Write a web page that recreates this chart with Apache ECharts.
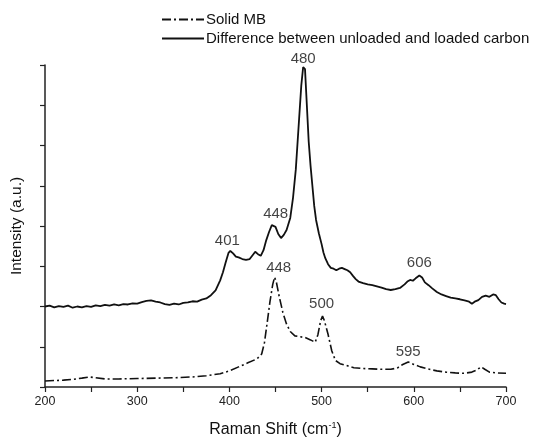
<!DOCTYPE html>
<html>
<head>
<meta charset="utf-8">
<script src="https://cdn.jsdelivr.net/npm/echarts@6/dist/echarts.min.js"></script>
<style>
html,body{margin:0;padding:0;background:#fff;}
#chart{width:540px;height:443px;}
</style>
</head>
<body>
<div id="chart"></div>
<script>
// Difference between unloaded and loaded carbon (solid line)
var diffX = [200,205,210,215,220,225,230,235,240,245,250,255,260,265,270,275,280,285,290,295,300,305,310,315,320,325,330,335,340,345,350,355,360,365,370,375,380,385,390,393,396,399,401,404,407,410,414,418,422,426,428,431,434,437,440,443,446,448,450,453,456,459,462,466,469,472,474,476,478,480,482,484,486,488,490,492,494,497,500,502,504,507,510,513,516,519,522,525,528,531,534,537,540,545,550,555,560,565,570,575,580,585,590,593,596,599,602,606,609,612,616,620,625,630,635,640,645,650,655,660,663,666,670,674,678,682,686,689,692,695,698,700];
var diffY = [2.00,2.02,1.98,2.01,1.99,2.02,1.97,2.00,1.98,2.01,1.99,2.03,2.01,2.04,2.02,2.05,2.03,2.06,2.05,2.08,2.07,2.11,2.14,2.15,2.12,2.10,2.06,2.04,2.07,2.05,2.09,2.10,2.13,2.12,2.17,2.20,2.28,2.40,2.65,2.85,3.10,3.33,3.38,3.32,3.24,3.22,3.18,3.16,3.18,3.30,3.36,3.30,3.26,3.40,3.65,3.85,4.02,4.05,3.98,3.80,3.70,3.78,3.90,4.20,4.70,5.40,6.10,6.80,7.50,7.95,7.90,7.00,6.10,5.50,5.00,4.50,4.15,3.82,3.55,3.34,3.20,3.05,2.96,2.94,2.90,2.94,2.96,2.93,2.90,2.85,2.76,2.68,2.62,2.58,2.55,2.53,2.50,2.47,2.43,2.41,2.43,2.46,2.55,2.62,2.66,2.64,2.70,2.77,2.72,2.60,2.53,2.45,2.36,2.30,2.26,2.22,2.20,2.18,2.15,2.12,2.07,2.12,2.16,2.24,2.27,2.24,2.30,2.28,2.18,2.10,2.07,2.06];

// Solid MB (dash-dot line)
var mbX = [200,210,220,230,240,248,255,265,280,300,320,340,360,375,390,400,410,420,430,435,438,441,444,447,449,451,454,458,462,466,471,476,482,488,493,496,499,501,503,507,511,515,520,526,535,545,555,565,575,582,588,594,600,607,615,625,635,645,655,663,668,673,677,682,690,700];
var mbY = [0.15,0.16,0.17,0.19,0.22,0.25,0.23,0.20,0.20,0.21,0.22,0.23,0.25,0.28,0.33,0.40,0.50,0.60,0.70,0.82,1.10,1.60,2.12,2.55,2.73,2.60,2.25,1.85,1.56,1.38,1.27,1.25,1.23,1.17,1.11,1.30,1.65,1.76,1.65,1.31,0.90,0.66,0.58,0.54,0.48,0.46,0.45,0.44,0.44,0.47,0.56,0.62,0.56,0.50,0.45,0.40,0.37,0.35,0.34,0.37,0.42,0.50,0.44,0.37,0.35,0.34];

// Peak annotations
var diffPeakX = [401, 448, 480, 606];
var diffPeakY = [3.38, 4.05, 7.95, 2.77];
var mbPeakX = [448, 500, 595];
var mbPeakY = [2.73, 1.76, 0.62];

var xTicks = [200, 300, 400, 500, 600, 700];

function zip(a, b) { return a.map(function (v, i) { return [v, b[i]]; }); }

var diffOffsets = [[-3, 1], [2, 1], [0, 3], [0, -1]];
var mbOffsets = [[5, 2], [0, -1], [-1, 1]];

function peakData(xs, ys, offs) {
  return xs.map(function (x, i) {
    return { value: [x, ys[i]], label: { offset: offs[i] } };
  });
}

var chart = echarts.init(document.getElementById('chart'), null, { renderer: 'canvas' });
var txt = '#111';
chart.setOption({
  animation: false,
  backgroundColor: '#fff',
  textStyle: { fontFamily: 'Liberation Sans, Arial, sans-serif' },
  legend: {
    orient: 'vertical',
    left: 156,
    top: 7,
    itemWidth: 42,
    itemHeight: 14,
    itemGap: 4,
    itemStyle: { color: 'transparent', borderWidth: 0, opacity: 0 },
    data: ['Solid MB', 'Difference between unloaded and loaded carbon'],
    textStyle: { fontSize: 15, color: txt, padding: [0, 0, 0, -3] }
  },
  grid: { left: 45, right: 34, top: 65, bottom: 49, containLabel: false },
  xAxis: {
    type: 'value',
    min: 200, max: 700, interval: 50,
    name: 'Raman Shift (cm{sup|-1})',
    nameLocation: 'middle',
    nameGap: 34,
    nameTextStyle: {
      fontSize: 16, color: txt,
      rich: { sup: { fontSize: 9, verticalAlign: 'top', padding: [0, 0, 9, 0], color: txt } }
    },
    axisLine: { lineStyle: { color: '#222', width: 1.5 } },
    axisTick: { length: 5, lineStyle: { color: '#222', width: 1.2 } },
    axisLabel: {
      fontSize: 12.5, color: '#222', margin: 8,
      formatter: function (v) { return xTicks.indexOf(v) >= 0 ? String(v) : ''; }
    },
    splitLine: { show: false }
  },
  yAxis: {
    type: 'value',
    min: 0, max: 8, interval: 1,
    name: 'Intensity (a.u.)',
    nameLocation: 'middle',
    nameGap: 20,
    nameTextStyle: { fontSize: 15.5, color: txt },
    axisLine: { show: true, lineStyle: { color: '#222', width: 1.5 } },
    axisTick: { show: true, length: 5, lineStyle: { color: '#222', width: 1.2 } },
    axisLabel: { show: false },
    splitLine: { show: false }
  },
  series: [
    {
      name: 'Solid MB',
      type: 'line',
      data: zip(mbX, mbY),
      showSymbol: false,
      symbol: 'none',
      itemStyle: { color: '#111' },
      lineStyle: { color: '#111', width: 1.6, type: [9, 3, 2, 3] },
      z: 3
    },
    {
      name: 'Difference between unloaded and loaded carbon',
      type: 'line',
      data: zip(diffX, diffY),
      showSymbol: false,
      symbol: 'none',
      itemStyle: { color: '#111' },
      lineStyle: { color: '#111', width: 1.8 },
      z: 4
    },
    {
      name: 'diffPeaks',
      type: 'scatter',
      data: peakData(diffPeakX, diffPeakY, diffOffsets),
      symbolSize: 0,
      silent: true,
      label: {
        show: true, position: 'top', distance: 4,
        fontSize: 15, color: txt,
        formatter: function (p) { return String(p.value[0]); }
      },
      z: 5
    },
    {
      name: 'mbPeaks',
      type: 'scatter',
      data: peakData(mbPeakX, mbPeakY, mbOffsets),
      symbolSize: 0,
      silent: true,
      label: {
        show: true, position: 'top', distance: 4,
        fontSize: 15, color: txt,
        formatter: function (p) { return String(p.value[0]); }
      },
      z: 5
    }
  ]
});
</script>
</body>
</html>
